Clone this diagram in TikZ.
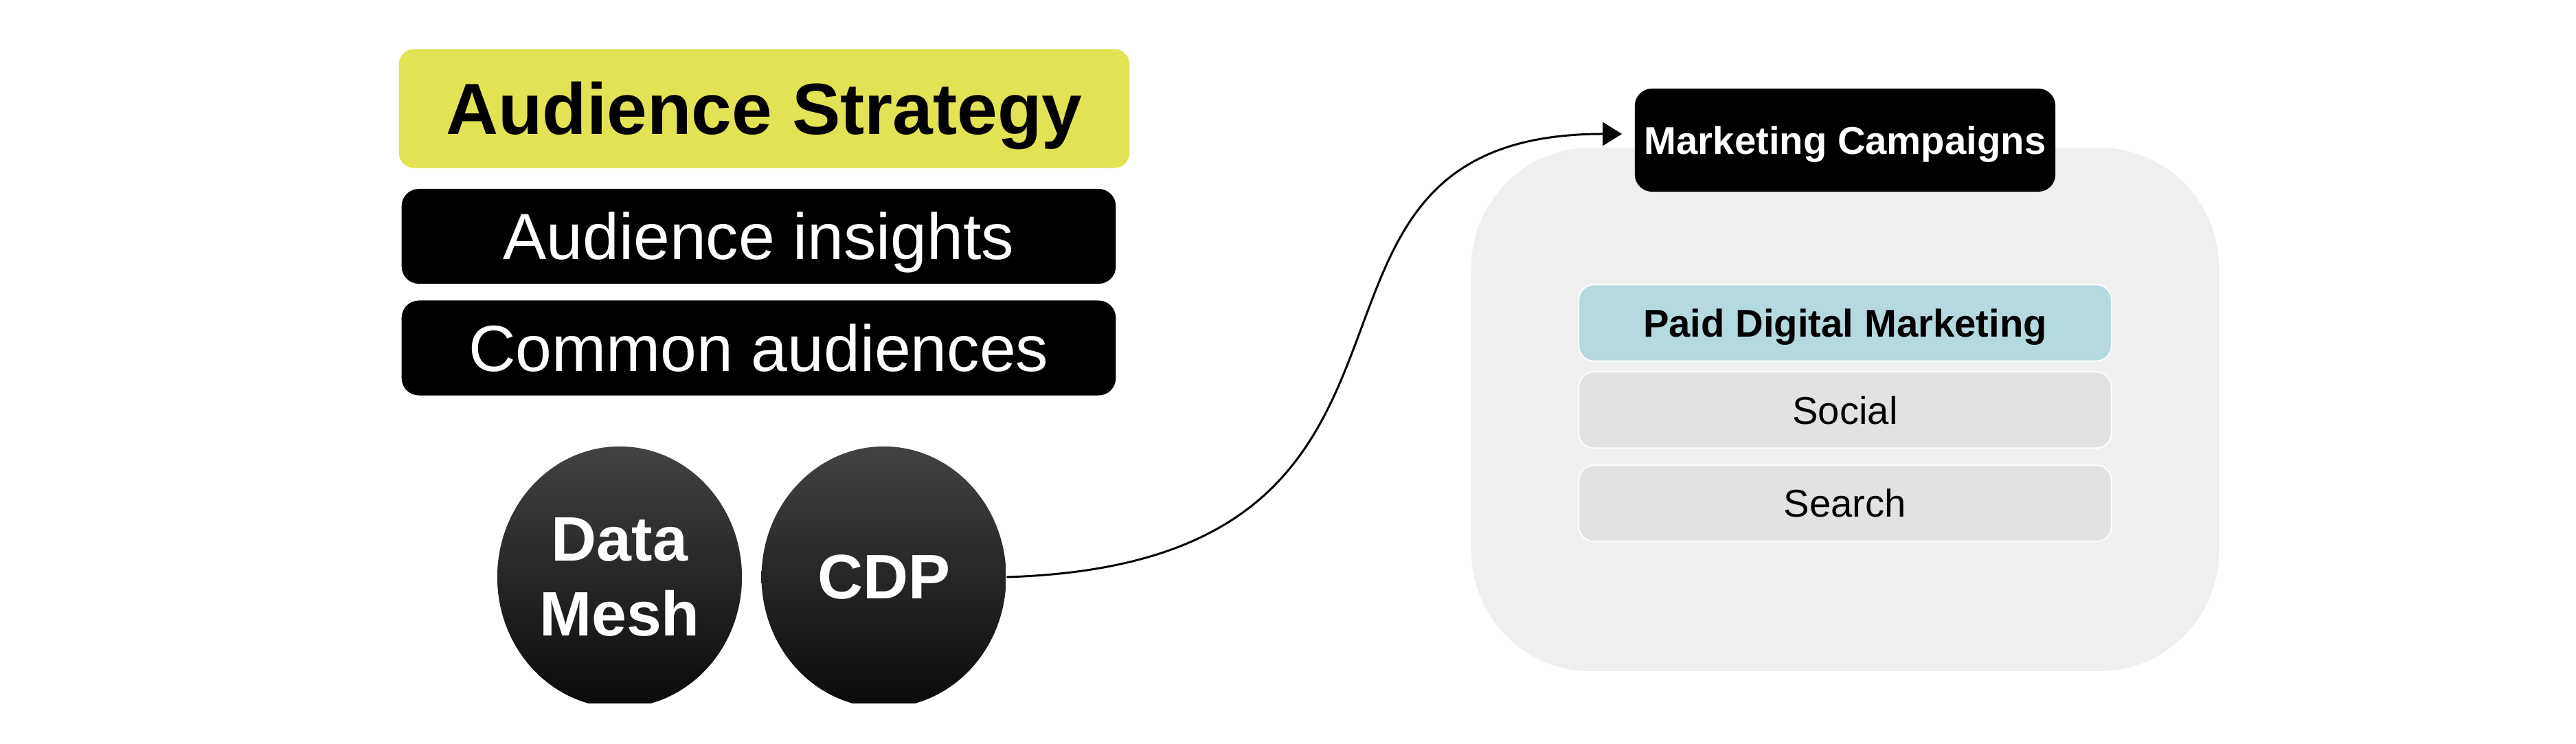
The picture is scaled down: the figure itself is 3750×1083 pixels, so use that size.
\documentclass[tikz,border=0pt]{standalone}
\usepackage{fontspec}
\setmainfont{Liberation Sans}
\usetikzlibrary{arrows.meta,positioning,shapes.geometric}
\definecolor{audyellow}{HTML}{E1E355}
\definecolor{paidblue}{HTML}{B4D9DE}
\definecolor{panelgray}{HTML}{EFEFEF}
\definecolor{chgray}{HTML}{E3E2E0}
\tikzset{
  flowarrow/.style={-{Triangle[length=2.8mm,width=3.4mm]}, line width=0.85pt, draw=black},
  headbox/.style={fill=audyellow, rounded corners=2.2mm, inner sep=0pt,
    minimum width=10.63cm, minimum height=1.73cm, text height=21.5pt, text depth=0pt,
    font=\fontsize{30}{36}\selectfont\bfseries},
  darkbox/.style={fill=black, text=white, rounded corners=2.5mm, inner sep=0pt,
    minimum width=10.39cm, minimum height=1.38cm, text height=19.3pt, text depth=0pt,
    font=\fontsize{27}{32}\selectfont},
  blob/.style={ellipse, top color=black!74, bottom color=black!96, draw=none, text=white,
    inner sep=0pt, minimum width=3.56cm, minimum height=3.8cm, align=center,
    font=\fontsize{26}{31}\selectfont\bfseries},
  campbox/.style={fill=black, text=white, rounded corners=2.5mm, inner sep=0pt,
    minimum width=6.12cm, minimum height=1.5cm, text height=11.5pt, text depth=0pt,
    font=\fontsize{16}{19}\selectfont\bfseries},
  panel/.style={fill=panelgray, rounded corners=17.5mm, inner sep=0pt,
    minimum width=10.88cm, minimum height=7.62cm},
  paidbox/.style={fill=paidblue, draw=white, line width=0.5pt, rounded corners=2.2mm, inner sep=0pt,
    minimum width=7.75cm, minimum height=1.11cm, text height=11.5pt, text depth=0pt,
    font=\fontsize{16}{19}\selectfont\bfseries},
  chbox/.style={paidbox, fill=chgray, font=\fontsize{16}{19}\selectfont}
}
\begin{document}
\begin{tikzpicture}[x=0.01cm, y=-0.01cm]
\useasboundingbox (0,0) rectangle (3750,1083);
% audience stack
\node[headbox] (strat) at (1112.5,158) {Audience Strategy};
\node[darkbox, below=0.29cm of strat.south west, anchor=north west, xshift=0.04cm] (insights) {Audience insights};
\node[darkbox, below=0.23cm of insights] (common) {Common audiences};
% data sources
\begin{scope}
  \clip (0,0) rectangle (3750,1024);
  \node[blob] (mesh) at (902,840) {Data\\Mesh};
  \node[blob, right=0.27cm of mesh] (cdp) {CDP};
\end{scope}
% campaigns panel
\node[panel] (panel) at (2686,596) {};
\node[campbox] (camp) at (2686,204) {Marketing Campaigns};
\node[paidbox] (paid) at (2686,470) {Paid Digital Marketing};
\node[chbox, below=0.14cm of paid] (social) {Social};
\node[chbox, below=0.23cm of social] (search) {Search};

\coordinate (tip) at ([xshift=-0.18cm, yshift=0.09cm]camp.west);
\draw[flowarrow] (cdp.east) .. controls +(720,-22) and +(-560,0) .. (tip);
\end{tikzpicture}
\end{document}
